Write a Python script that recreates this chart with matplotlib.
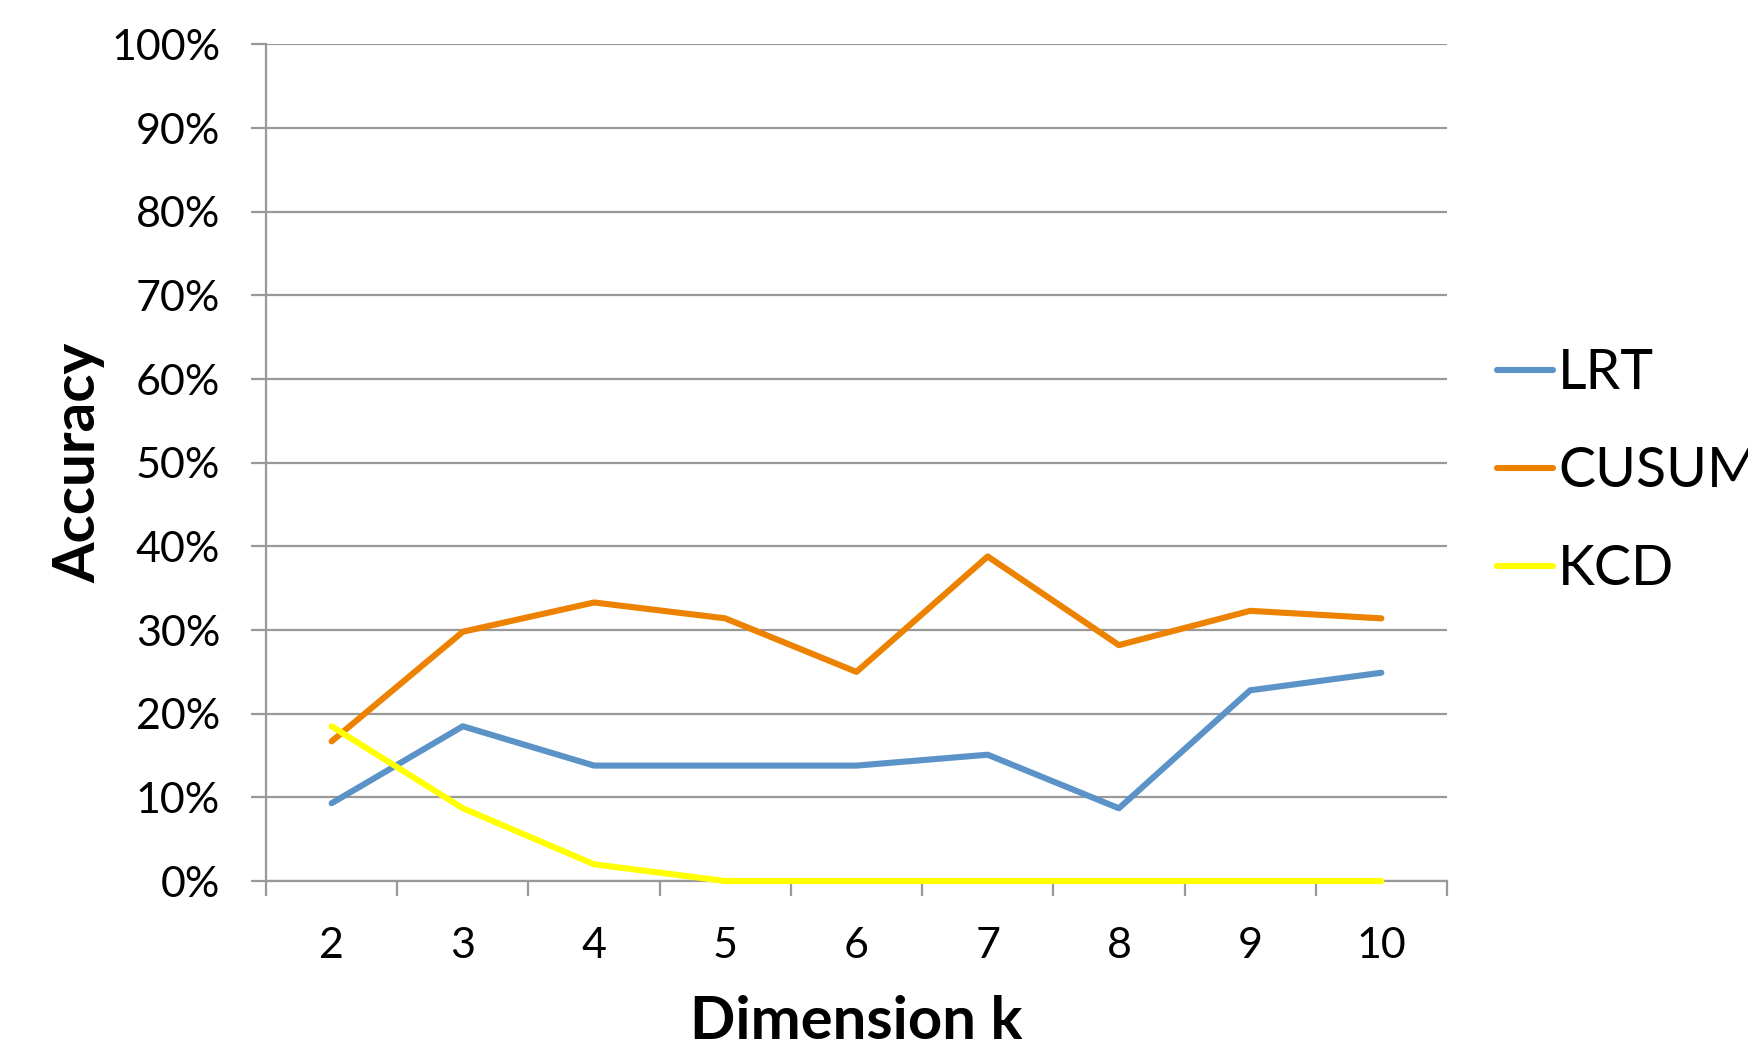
import matplotlib
matplotlib.use("Agg")
import matplotlib.pyplot as plt
from matplotlib.ticker import FixedLocator, FuncFormatter

plt.rcParams['font.family'] = ['Lato', 'DejaVu Sans']

# Data (accuracy in %)
dimensions = [2, 3, 4, 5, 6, 7, 8, 9, 10]
lrt = [9.3, 18.5, 13.8, 13.8, 13.8, 15.1, 8.7, 22.8, 24.9]
cusum = [16.7, 29.8, 33.3, 31.4, 25.0, 38.8, 28.2, 32.3, 31.4]
kcd = [18.5, 8.7, 2.0, 0, 0, 0, 0, 0, 0]

SERIES_COLORS = {
    "LRT": "#5B93C8",
    "CUSUM": "#EC8200",
    "KCD": "#FFFF00",
}
GRID_GRAY = "#999999"

fig = plt.figure(figsize=(17.49, 10.62), dpi=100)
ax = fig.add_axes([0.1521, 0.1704, 0.6752, 0.7877])

for name, values in [("LRT", lrt), ("CUSUM", cusum), ("KCD", kcd)]:
    ax.plot(dimensions, values, color=SERIES_COLORS[name], linewidth=4.4,
            solid_capstyle='round', label=name, clip_on=False, zorder=3)

ax.set_xlim(1.5, 10.5)
ax.set_ylim(0, 100)

# y axis: gridlines every 10%, outward ticks
ax.set_yticks(range(0, 101, 10))
ax.yaxis.set_major_formatter(FuncFormatter(lambda v, p: f"{int(v)}%"))
ax.yaxis.grid(True, color=GRID_GRAY, linewidth=1.6)
ax.tick_params(axis='y', length=11, width=1.6, color=GRID_GRAY, labelsize=31, pad=22)

# x axis: labels at category centres, tick marks on boundaries
ax.set_xticks(dimensions)
ax.xaxis.set_minor_locator(FixedLocator([d + 0.5 for d in [1] + dimensions]))
ax.tick_params(axis='x', which='major', length=0, labelsize=31, pad=33)
ax.tick_params(axis='x', which='minor', length=11, width=1.6, color=GRID_GRAY)

for side in ['top', 'right']:
    ax.spines[side].set_visible(False)
for side in ['left', 'bottom']:
    ax.spines[side].set_color(GRID_GRAY)
    ax.spines[side].set_linewidth(1.6)
ax.set_axisbelow(True)

ax.set_xlabel("Dimension k", fontsize=43, fontweight='bold', labelpad=22)
ax.set_ylabel("Accuracy", fontsize=42, fontweight='bold', labelpad=4)

ax.legend(loc='upper left', bbox_to_anchor=(1.0, 0.697), frameon=False,
          fontsize=40, handlelength=1.0, handletextpad=0.1,
          labelspacing=0.85, borderpad=0, borderaxespad=0.9)

fig.savefig("out.png", dpi=100)
